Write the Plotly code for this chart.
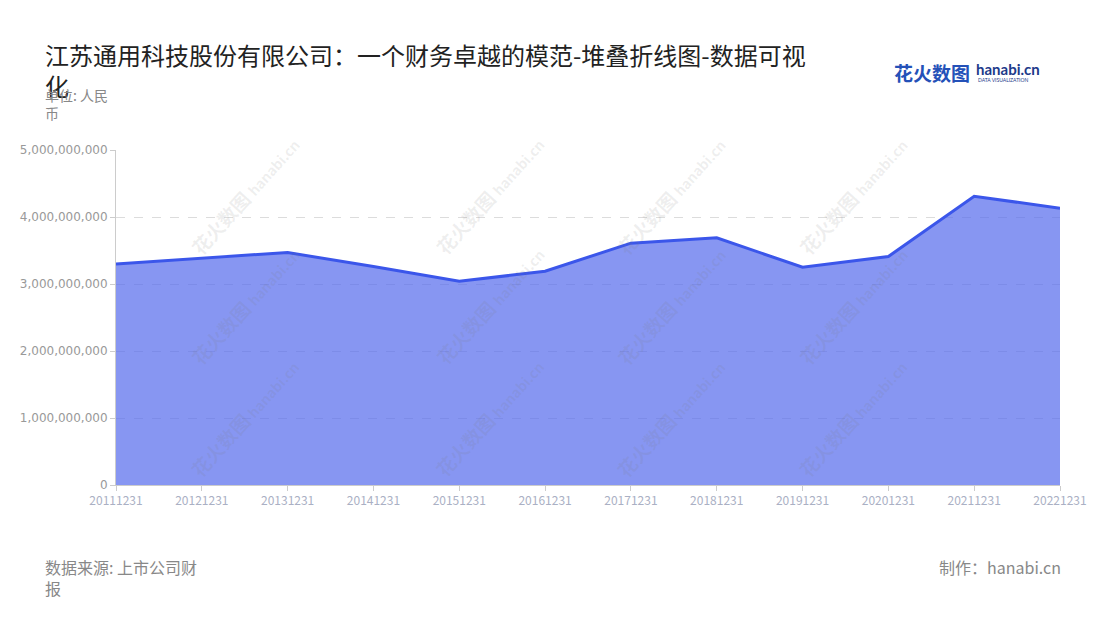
import plotly.graph_objects as go

categories = ["20111231", "20121231", "20131231", "20141231", "20151231", "20161231",
              "20171231", "20181231", "20191231", "20201231", "20211231", "20221231"]
values = [3.30e9, 3.39e9, 3.47e9, 3.26e9, 3.04e9, 3.19e9,
          3.61e9, 3.69e9, 3.25e9, 3.41e9, 4.31e9, 4.13e9]
y_ticks = [0, 1e9, 2e9, 3e9, 4e9, 5e9]

FONT = "Noto Sans CJK SC"

fig = go.Figure()
fig.add_trace(go.Scatter(
    x=categories, y=values, mode="lines",
    line=dict(color="#3b56ea", width=3),
    fill="tozeroy", fillcolor="rgba(84,106,236,0.70)",
    hoverinfo="x+y", showlegend=False,
))

W, H = 1100, 620
OFF = 8  # page body margin
# desired plot area in page pixels
PL, PR, PT, PB = 114, 1060, 150, 485
ml = PL - OFF
mt = PT - OFF
mr = W - (PR - OFF)
mb = H - (PB - OFF)
plot_w = PR - PL
plot_h = PB - PT

fig.update_layout(
    width=W, height=H,
    margin=dict(l=ml, r=mr, t=mt, b=mb),
    paper_bgcolor="white", plot_bgcolor="white",
    font=dict(family=FONT),
    xaxis=dict(
        type="category", range=[0, len(categories) - 1],
        showgrid=False, showline=True, linecolor="#cccccc", linewidth=1,
        ticks="outside", ticklen=5, tickcolor="#cccccc",
        tickfont=dict(size=12, color="#aab0c4", family=FONT),
        zeroline=False,
    ),
    yaxis=dict(
        range=[0, 5e9], tickvals=y_ticks, tickformat=",",
        showgrid=True, gridcolor="#dcdcdc", griddash="dash", gridwidth=1,
        showline=True, linecolor="#cccccc", linewidth=1,
        ticks="outside", ticklen=5, tickcolor="#cccccc",
        tickfont=dict(size=12, color="#999999", family="DejaVu Sans"),
        zeroline=False,
    ),
)


def px(xp):
    return (xp - PL) / plot_w


def py(yp):
    return (PB - yp) / plot_h


ann = []
# watermarks
for cx in [180, 425, 670, 915]:
    for cy in [128, 305, 485]:
        ann.append(dict(
            x=px(cx), y=py(cy), xref="paper", yref="paper",
            text="<b>花火数图</b> <b style='font-size:14px'>hanabi.cn</b>",
            showarrow=False, textangle=-48,
            font=dict(size=19, color="rgba(120,120,120,0.12)", family=FONT),
        ))

# title
ann.append(dict(x=px(41), y=py(35), xref="paper", yref="paper",
                xanchor="left", yanchor="top", align="left",
                text="江苏通用科技股份有限公司：一个财务卓越的模范-堆叠折线图-数据可视<br>化",
                showarrow=False, font=dict(size=24, color="#222222", family=FONT)))
# subtitle
ann.append(dict(x=px(41), y=py(83), xref="paper", yref="paper",
                xanchor="left", yanchor="top", align="left",
                text="单位: 人民<br>币", showarrow=False,
                font=dict(size=14, color="#888888", family=FONT)))
# logo
ann.append(dict(x=px(892), y=py(73), xref="paper", yref="paper",
                xanchor="left", yanchor="middle",
                text="<b>花火数图</b>", showarrow=False,
                font=dict(size=19, color="#2451b8", family=FONT)))
ann.append(dict(x=px(974), y=py(69), xref="paper", yref="paper",
                xanchor="left", yanchor="middle",
                text="<b>hanabi.cn</b>", showarrow=False,
                font=dict(size=15, color="#1d3a8a", family="Lato")))
ann.append(dict(x=px(976), y=py(80), xref="paper", yref="paper",
                xanchor="left", yanchor="middle",
                text="DATA VISUALIZATION", showarrow=False,
                font=dict(size=5, color="#1d3a8a", family="Lato")))
# footer
ann.append(dict(x=px(41), y=py(553), xref="paper", yref="paper",
                xanchor="left", yanchor="top", align="left",
                text="数据来源: 上市公司财<br>报", showarrow=False,
                font=dict(size=16, color="#888888", family=FONT)))
ann.append(dict(x=px(1063), y=py(553), xref="paper", yref="paper",
                xanchor="right", yanchor="top", align="right",
                text="制作：hanabi.cn", showarrow=False,
                font=dict(size=16, color="#888888", family=FONT)))

fig.update_layout(annotations=ann)
fig.write_html("out.html")
